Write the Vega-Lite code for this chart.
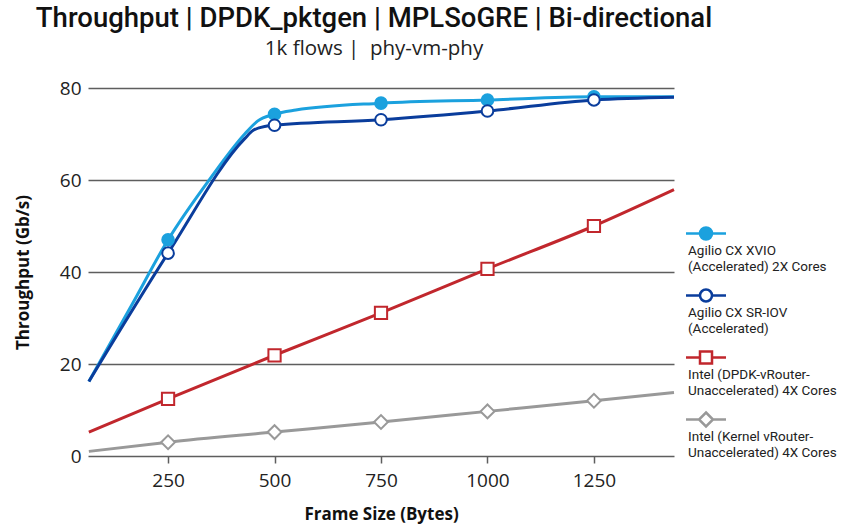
{
  "$schema": "https://vega.github.io/schema/vega-lite/v6.json",
  "width": 586,
  "height": 368,
  "autosize": {"type": "none"},
  "padding": {"left": 88, "top": 88, "right": 167, "bottom": 75},
  "background": "white",
  "title": {
    "text": "Throughput | DPDK_pktgen | MPLSoGRE | Bi-directional",
    "subtitle": "1k flows |\u00a0 phy-vm-phy",
    "anchor": "middle",
    "frame": "group",
    "dx": -7,
    "offset": 20,
    "font": "Roboto",
    "fontSize": 27.5,
    "fontWeight": 500,
    "color": "#111111",
    "subtitleFont": "Open Sans",
    "subtitleFontSize": 20.5,
    "subtitleColor": "#222222",
    "subtitlePadding": 6
  },
  "config": {
    "view": {"stroke": null},
    "legend": {"padding": 0}
  },
  "data": {
    "values": [
      {"series": "Agilio CX XVIO (Accelerated) 2X Cores", "frame": 64, "gbps": 16.2},
      {"series": "Agilio CX XVIO (Accelerated) 2X Cores", "frame": 167, "gbps": 33.2},
      {"series": "Agilio CX XVIO (Accelerated) 2X Cores", "frame": 250, "gbps": 47.0},
      {"series": "Agilio CX XVIO (Accelerated) 2X Cores", "frame": 348, "gbps": 60.2},
      {"series": "Agilio CX XVIO (Accelerated) 2X Cores", "frame": 430, "gbps": 70.0},
      {"series": "Agilio CX XVIO (Accelerated) 2X Cores", "frame": 460, "gbps": 72.8},
      {"series": "Agilio CX XVIO (Accelerated) 2X Cores", "frame": 500, "gbps": 74.3},
      {"series": "Agilio CX XVIO (Accelerated) 2X Cores", "frame": 550, "gbps": 75.2},
      {"series": "Agilio CX XVIO (Accelerated) 2X Cores", "frame": 750, "gbps": 76.7},
      {"series": "Agilio CX XVIO (Accelerated) 2X Cores", "frame": 1000, "gbps": 77.4},
      {"series": "Agilio CX XVIO (Accelerated) 2X Cores", "frame": 1250, "gbps": 78.1},
      {"series": "Agilio CX XVIO (Accelerated) 2X Cores", "frame": 1438, "gbps": 78.1},
      {"series": "Agilio CX SR-IOV (Accelerated)", "frame": 64, "gbps": 16.2},
      {"series": "Agilio CX SR-IOV (Accelerated)", "frame": 250, "gbps": 44.1},
      {"series": "Agilio CX SR-IOV (Accelerated)", "frame": 430, "gbps": 69.0},
      {"series": "Agilio CX SR-IOV (Accelerated)", "frame": 450, "gbps": 70.8},
      {"series": "Agilio CX SR-IOV (Accelerated)", "frame": 480, "gbps": 71.7},
      {"series": "Agilio CX SR-IOV (Accelerated)", "frame": 500, "gbps": 71.9},
      {"series": "Agilio CX SR-IOV (Accelerated)", "frame": 750, "gbps": 73.1},
      {"series": "Agilio CX SR-IOV (Accelerated)", "frame": 1000, "gbps": 75.0},
      {"series": "Agilio CX SR-IOV (Accelerated)", "frame": 1250, "gbps": 77.4},
      {"series": "Agilio CX SR-IOV (Accelerated)", "frame": 1438, "gbps": 78.0},
      {"series": "Intel (DPDK-vRouter-Unaccelerated) 4X Cores", "frame": 64, "gbps": 5.2},
      {"series": "Intel (DPDK-vRouter-Unaccelerated) 4X Cores", "frame": 250, "gbps": 12.4},
      {"series": "Intel (DPDK-vRouter-Unaccelerated) 4X Cores", "frame": 500, "gbps": 21.9},
      {"series": "Intel (DPDK-vRouter-Unaccelerated) 4X Cores", "frame": 750, "gbps": 31.1},
      {"series": "Intel (DPDK-vRouter-Unaccelerated) 4X Cores", "frame": 1000, "gbps": 40.7},
      {"series": "Intel (DPDK-vRouter-Unaccelerated) 4X Cores", "frame": 1250, "gbps": 50.0},
      {"series": "Intel (DPDK-vRouter-Unaccelerated) 4X Cores", "frame": 1438, "gbps": 57.9},
      {"series": "Intel (Kernel vRouter-Unaccelerated) 4X Cores", "frame": 64, "gbps": 1.0},
      {"series": "Intel (Kernel vRouter-Unaccelerated) 4X Cores", "frame": 250, "gbps": 3.0},
      {"series": "Intel (Kernel vRouter-Unaccelerated) 4X Cores", "frame": 500, "gbps": 5.2},
      {"series": "Intel (Kernel vRouter-Unaccelerated) 4X Cores", "frame": 750, "gbps": 7.4},
      {"series": "Intel (Kernel vRouter-Unaccelerated) 4X Cores", "frame": 1000, "gbps": 9.7},
      {"series": "Intel (Kernel vRouter-Unaccelerated) 4X Cores", "frame": 1250, "gbps": 12.0},
      {"series": "Intel (Kernel vRouter-Unaccelerated) 4X Cores", "frame": 1438, "gbps": 13.8}
    ]
  },
  "encoding": {
    "x": {
      "field": "frame",
      "type": "quantitative",
      "title": "Frame Size (Bytes)",
      "scale": {"domain": [62, 1438], "nice": false, "zero": false},
      "axis": {
        "values": [250, 500, 750, 1000, 1250],
        "format": "d",
        "grid": false,
        "domain": false,
        "ticks": true,
        "tickColor": "#5e5e5e",
        "tickWidth": 1.5,
        "tickSize": 7,
        "labelPadding": 8,
        "labelFont": "Open Sans",
        "labelFontSize": 19,
        "labelColor": "#222222",
        "titleFont": "Open Sans",
        "titleFontSize": 17,
        "titleFontWeight": "bold",
        "titleColor": "#111111",
        "titlePadding": 16
      }
    },
    "y": {
      "field": "gbps",
      "type": "quantitative",
      "title": "Throughput (Gb/s)",
      "scale": {"domain": [0, 80], "nice": false},
      "axis": {
        "values": [0, 20, 40, 60, 80],
        "grid": true,
        "gridColor": "#5e5e5e",
        "gridWidth": 1.5,
        "domain": false,
        "ticks": false,
        "labelPadding": 7,
        "labelFont": "Open Sans",
        "labelFontSize": 19,
        "labelColor": "#222222",
        "titleFont": "Open Sans",
        "titleFontSize": 17,
        "titleFontWeight": "bold",
        "titleColor": "#111111",
        "titlePadding": 27
      }
    }
  },
  "layer": [
    {
      "mark": {"type": "line", "strokeWidth": 3, "interpolate": "monotone"},
      "encoding": {
        "color": {
          "field": "series",
          "type": "nominal",
          "scale": {
            "domain": ["Agilio CX XVIO (Accelerated) 2X Cores", "Agilio CX SR-IOV (Accelerated)", "Intel (DPDK-vRouter-Unaccelerated) 4X Cores", "Intel (Kernel vRouter-Unaccelerated) 4X Cores"],
            "range": ["#1ba1de", "#0a3d9c", "#c1272d", "#999999"]
          },
          "legend": {
            "orient": "none",
            "legendX": 596.5,
            "legendY": 124,
            "title": null,
            "direction": "vertical",
            "labelExpr": "split(replace(replace(replace(datum.label, 'XVIO ', 'XVIO|'), 'SR-IOV ', 'SR-IOV|'), 'vRouter-', 'vRouter-|'), '|')",
            "labelFont": "Roboto",
            "labelFontSize": 13.5,
            "labelColor": "#222222",
            "labelBaseline": "top",
            "labelOffset": -39.5,
            "labelLimit": 300,
            "rowPadding": -1,
            "symbolSize": 1600,
            "symbolStrokeWidth": 2.5,
            "encoding": {
              "symbols": {
                "shape": {"value": {"expr": "['M-1,0H-0.3M0.3,0H1M0.3,0A0.3,0.3 0 1 1 -0.3,0A0.3,0.3 0 1 1 0.3,0Z', 'M-1,0H-0.3M0.3,0H1M0.3,0A0.3,0.3 0 1 1 -0.3,0A0.3,0.3 0 1 1 0.3,0Z', 'M-1,0H-0.3M0.3,0H1M-0.3,-0.3H0.3V0.3H-0.3Z', 'M-1,0H-0.35M0.35,0H1M0,-0.35L0.35,0L0,0.35L-0.35,0Z'][datum.index]"}},
                "fill": {"value": {"expr": "scale('fill', datum.value)"}},
                "fillOpacity": {"value": 1},
                "stroke": {"value": {"expr": "scale('color', datum.value)"}}
              },
              "labels": {
                "dy": {"value": 10},
                "lineHeight": {"value": 16.6}
              }
            }
          }
        }
      }
    },
    {
      "transform": [
        {"filter": {"field": "frame", "oneOf": [250, 500, 750, 1000, 1250]}},
        {"filter": {"field": "series", "oneOf": ["Agilio CX XVIO (Accelerated) 2X Cores", "Agilio CX SR-IOV (Accelerated)"]}}
      ],
      "mark": {"type": "point", "shape": "circle", "size": 135, "strokeWidth": 2, "opacity": 1, "fillOpacity": 1},
      "encoding": {
        "stroke": {
          "field": "series",
          "type": "nominal",
          "scale": {
            "domain": ["Agilio CX XVIO (Accelerated) 2X Cores", "Agilio CX SR-IOV (Accelerated)", "Intel (DPDK-vRouter-Unaccelerated) 4X Cores", "Intel (Kernel vRouter-Unaccelerated) 4X Cores"],
            "range": ["#1ba1de", "#0a3d9c", "#c1272d", "#999999"]
          },
          "legend": null
        },
        "fill": {
          "field": "series",
          "type": "nominal",
          "scale": {
            "domain": ["Agilio CX XVIO (Accelerated) 2X Cores", "Agilio CX SR-IOV (Accelerated)", "Intel (DPDK-vRouter-Unaccelerated) 4X Cores", "Intel (Kernel vRouter-Unaccelerated) 4X Cores"],
            "range": ["#1ba1de", "#ffffff", "#ffffff", "#ffffff"]
          },
          "legend": null
        }
      }
    },
    {
      "transform": [
        {"filter": {"field": "frame", "oneOf": [250, 500, 750, 1000, 1250]}},
        {"filter": {"field": "series", "equal": "Intel (DPDK-vRouter-Unaccelerated) 4X Cores"}}
      ],
      "mark": {"type": "point", "shape": "square", "size": 150, "strokeWidth": 2, "opacity": 1, "fill": "#ffffff", "fillOpacity": 1},
      "encoding": {
        "stroke": {"field": "series", "type": "nominal", "legend": null}
      }
    },
    {
      "transform": [
        {"filter": {"field": "frame", "oneOf": [250, 500, 750, 1000, 1250]}},
        {"filter": {"field": "series", "equal": "Intel (Kernel vRouter-Unaccelerated) 4X Cores"}}
      ],
      "mark": {"type": "point", "shape": "diamond", "size": 190, "strokeWidth": 2, "opacity": 1, "fill": "#ffffff", "fillOpacity": 1},
      "encoding": {
        "stroke": {"field": "series", "type": "nominal", "legend": null}
      }
    }
  ]
}
